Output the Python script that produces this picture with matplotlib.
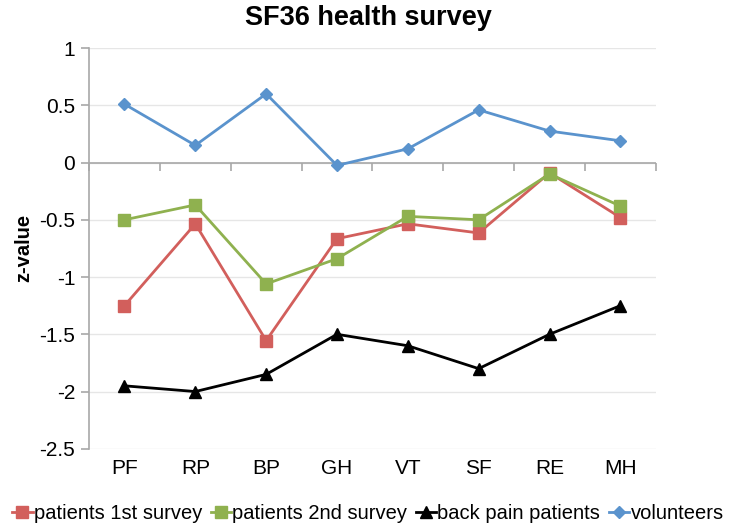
import matplotlib.pyplot as plt
import numpy as np

plt.rcParams['font.family'] = ['Liberation Sans', 'DejaVu Sans']

categories = ['PF', 'RP', 'BP', 'GH', 'VT', 'SF', 'RE', 'MH']
patients_1st = [-1.25, -0.535, -1.555, -0.665, -0.535, -0.615, -0.09, -0.48]
patients_2nd = [-0.50, -0.37, -1.06, -0.84, -0.47, -0.50, -0.10, -0.38]
back_pain = [-1.95, -2.0, -1.85, -1.5, -1.6, -1.8, -1.5, -1.25]
volunteers = [0.51, 0.15, 0.60, -0.025, 0.12, 0.46, 0.275, 0.19]

fig = plt.figure(figsize=(7.36, 5.28), dpi=100)
ax = fig.add_axes([0.121, 0.150, 0.770, 0.759])

x = np.arange(len(categories))

# category axis crosses at zero: line plus downward tick marks between categories
axis_grey = '#A8A8A8'
ax.axhline(0, color=axis_grey, lw=1.2, zorder=2)
bounds = np.arange(-0.5, len(categories))
ax.plot(bounds, np.zeros(len(bounds)), ls='none', marker=3, ms=6, mew=1.2,
        color=axis_grey, zorder=2, clip_on=False)

ax.plot(x, patients_1st, color='#D25F5C', lw=2, marker='s', ms=9, label='patients 1st survey', zorder=3)
ax.plot(x, patients_2nd, color='#8FB14F', lw=2, marker='s', ms=9, label='patients 2nd survey', zorder=3)
ax.plot(x, back_pain, color='black', lw=2, marker='^', ms=9, label='back pain patients', zorder=3)
ax.plot(x, volunteers, color='#5A93CD', lw=2, marker='D', ms=6.5, label='volunteers', zorder=3)

ax.set_xlim(-0.5, len(categories) - 0.5)
ax.set_ylim(-2.5, 1)
ax.set_yticks(np.arange(-2.5, 1.01, 0.5))
ax.set_yticklabels(['-2.5', '-2', '-1.5', '-1', '-0.5', '0', '0.5', '1'])
ax.set_xticks(x)
ax.set_xticklabels(categories)
ax.tick_params(axis='x', length=0, labelsize=15, pad=7)
ax.tick_params(axis='y', length=6, color=axis_grey, width=1.2, labelsize=15, pad=4)

ax.grid(axis='y', color='#E6E6E6', lw=1)
ax.set_axisbelow(True)
for s in ['top', 'right', 'bottom']:
    ax.spines[s].set_visible(False)
ax.spines['left'].set_color(axis_grey)
ax.spines['left'].set_linewidth(1.2)

ax.set_ylabel('z-value', fontsize=14.5, fontweight='bold', labelpad=4)
fig.suptitle('SF36 health survey', fontsize=19.5, fontweight='bold', y=0.99)

handles, labels = ax.get_legend_handles_labels()
fig.legend(handles, labels, loc='center', bbox_to_anchor=(0.5, 0.027), ncol=4,
           frameon=False, fontsize=14.5, handlelength=1.0, handletextpad=0.05,
           columnspacing=0.45, borderaxespad=0)

fig.savefig('out.png', dpi=100)
